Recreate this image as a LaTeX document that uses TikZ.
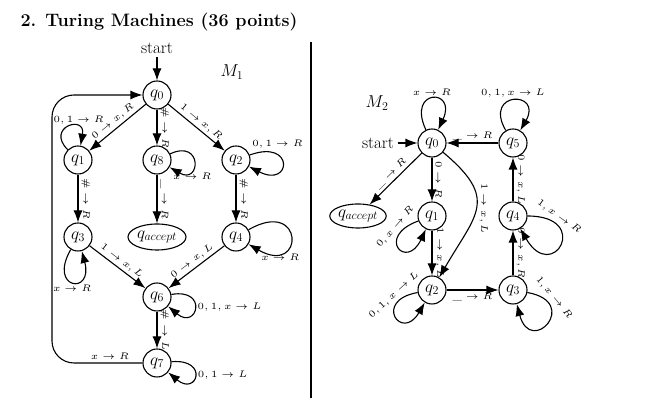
\documentclass[tikz,border=0pt]{standalone}
\usetikzlibrary{arrows.meta,shapes.geometric}
\newcommand\elab[1]{\scalebox{1.9}{\tiny$#1$}}
\begin{document}
\begin{tikzpicture}[x=1pt,y=1pt,
  tr/.style={-{Latex[length=12pt,width=9pt]}, line width=1.1pt},
  st/.style={circle, draw, line width=1.1pt, minimum size=28pt, inner sep=0pt, font=\fontsize{18}{21}\selectfont},
  acc/.style={ellipse, draw, line width=1.1pt, inner sep=0pt, font=\fontsize{17}{20}\selectfont},
  lab/.style={inner sep=2.5pt},
  vl/.style={rotate=-90, anchor=south, inner sep=3pt},
  lp/.style={looseness=0.01, min distance=#1},
  big/.style={font=\fontsize{17}{20}\selectfont}
]
\useasboundingbox (0,0) rectangle (646,409);
\node[anchor=base west, font=\fontsize{18}{21}\bfseries\selectfont] (title) at (17,382) {2. Turing Machines (36 points)};
\draw[line width=1.2pt] (311,367) -- (311,11);

% ---------- M1 ----------
\node[big] (astart) at (157,361) {start};
\node[font=\fontsize{18}{21}\selectfont] (m1) at (232,337) {$M_1$};
\node[st] (a0) at (157,314) {$q_0$};
\node[st] (a1) at (78,249) {$q_1$};
\node[st] (a8) at (157,249) {$q_8$};
\node[st] (a2) at (236,249) {$q_2$};
\node[st] (a3) at (78,172) {$q_3$};
\node[acc, minimum width=58pt, minimum height=26pt] (aA) at (157,172) {$q_{accept}$};
\node[st] (a4) at (236,172) {$q_4$};
\node[st] (a6) at (157,112) {$q_6$};
\node[st] (a7) at (157,46) {$q_7$};
\coordinate (b1c) at (52,46);
\coordinate (b2c) at (52,314);

\draw[tr] (astart) -- (a0);
\draw[tr] (a0) -- node[lab,sloped,above]{\elab{0 \to x, R}} (a1);
\draw[tr] (a0) -- node[lab,sloped,above]{\elab{1 \to x, R}} (a2);
\draw[tr] (a0) -- node[vl]{\elab{\# \to R}} (a8);
\draw[tr] (a8) -- node[vl]{\elab{\_ \to R}} (aA);
\draw[tr] (a1) -- node[vl]{\elab{\# \to R}} (a3);
\draw[tr] (a2) -- node[vl]{\elab{\# \to R}} (a4);
\draw[tr] (a3) -- node[lab,sloped,above]{\elab{1 \to x, L}} (a6);
\draw[tr] (a4) -- node[lab,sloped,above]{\elab{0 \to x, L}} (a6);
\draw[tr] (a6) -- node[vl]{\elab{\# \to L}} (a7);
\draw[tr, rounded corners=22pt] (a7) -- node[lab,pos=0.36,above]{\elab{x \to R}} (b1c) -- (b2c) -- (a0);

\draw[tr] (a1) to[out=135,in=80,lp=32pt] node[lab,above,xshift=11pt]{\elab{0, 1 \to R}} (a1);
\draw[tr] (a8) to[out=25,in=-30,lp=36pt] node[lab,pos=0.62,below=3pt]{\elab{x \to R}} (a8);
\draw[tr] (a2) to[out=20,in=-27,lp=48pt] node[lab,pos=0.3,above=3pt]{\elab{0, 1 \to R}} (a2);
\draw[tr] (a3) to[out=-120,in=-75,lp=46pt] node[lab,below]{\elab{x \to R}} (a3);
\draw[tr] (a4) to[out=30,in=-30,lp=65pt] node[lab,pos=0.75,below]{\elab{x \to R}} (a4);
\draw[tr] (a6) to[out=10,in=-40,lp=38pt] node[lab,right]{\elab{0, 1, x \to L}} (a6);
\draw[tr] (a7) to[out=5,in=-40,lp=38pt] node[lab,right]{\elab{0, 1 \to L}} (a7);

% ---------- M2 ----------
\node[font=\fontsize{18}{21}\selectfont] (m2) at (377,306) {$M_2$};
\node[big] (bstart) at (378,266) {start};
\node[st] (b0) at (432,266) {$q_0$};
\node[st] (b5) at (513,266) {$q_5$};
\node[acc, minimum width=56pt, minimum height=24pt] (bA) at (358,193) {$q_{accept}$};
\node[st] (b1) at (432,193) {$q_1$};
\node[st] (b4) at (513,193) {$q_4$};
\node[st] (b2) at (432,119) {$q_2$};
\node[st] (b3) at (513,119) {$q_3$};

\draw[tr] (bstart) -- (b0);
\draw[tr] (b0) to[out=115,in=65,lp=46pt] node[lab,above]{\elab{x \to R}} (b0);
\draw[tr] (b5) to[out=120,in=60,lp=46pt] node[lab,above]{\elab{0, 1, x \to L}} (b5);
\draw[tr] (b5) -- node[lab,above]{\elab{\_ \to R}} (b0);
\draw[tr] (b0) -- node[lab,sloped,above]{\elab{\_ \to R}} (bA);
\draw[tr] (b0) -- node[vl]{\elab{0 \to R}} (b1);
\draw[tr] (b0) to[out=-40,in=60,looseness=1.5] node[vl,pos=0.5]{\elab{1 \to x, L}} (b2);
\draw[tr] (b1) to[out=200,in=245,lp=46pt] node[lab,pos=0.2,sloped,above]{\elab{0, x \to R}} (b1);
\draw[tr] (b1) -- node[vl]{\elab{1 \to x, L}} (b2);
\draw[tr] (b2) to[out=190,in=240,lp=46pt] node[lab,pos=0.2,sloped,above]{\elab{0, 1, x \to L}} (b2);
\draw[tr] (b2) -- node[lab,below]{\elab{\_ \to R}} (b3);
\draw[tr] (b3) -- node[vl]{\elab{0 \to x, R}} (b4);
\draw[tr] (b4) -- node[vl]{\elab{0 \to x, L}} (b5);
\draw[tr] (b4) to[out=0,in=-60,lp=65pt] node[lab,pos=0.2,sloped,above]{\elab{1, x \to R}} (b4);
\draw[tr] (b3) to[out=-10,in=-75,lp=55pt] node[lab,pos=0.2,sloped,above]{\elab{1, x \to R}} (b3);
\end{tikzpicture}
\end{document}
